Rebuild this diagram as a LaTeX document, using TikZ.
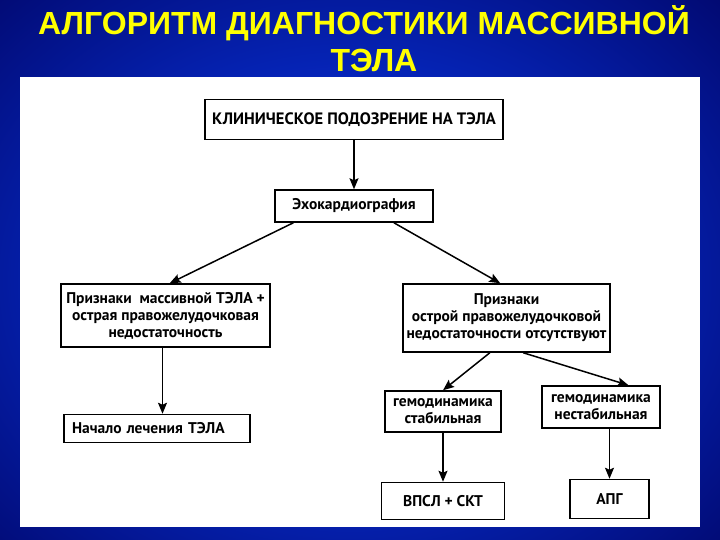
\documentclass[tikz,border=0pt]{standalone}
\usepackage{fontspec}
\setmainfont{PT Sans}
\newfontfamily\titlefont{Liberation Sans}
\usetikzlibrary{calc}
\usetikzlibrary{positioning}
\usetikzlibrary{arrows.meta}
\definecolor{navy}{HTML}{00005A}
\definecolor{slideblue}{HTML}{0A40FF}
\definecolor{titleyellow}{HTML}{FFFF00}

\begin{document}
\begin{tikzpicture}[x=1pt, y=-1pt, ->, >={Stealth[length=11pt, width=9pt, inset=2pt]}, line width=1.5pt, draw=black]
    \tikzstyle{block}=[draw=black, rectangle, fill=white, inner sep=2pt, align=center, font=\fontsize{15.5}{17}\selectfont\bfseries]
    \tikzstyle{title}=[text=titleyellow, anchor=base, inner sep=0pt, font=\titlefont\fontsize{32}{36}\selectfont\bfseries]

    \useasboundingbox (0,0) rectangle (720,540);
    % slide background (larger than the page) and white panel
    \shade[inner color=slideblue, outer color=navy] (-250,-200) rectangle (950,760);
    \fill[white] (20,77) rectangle (700,527);

    \node[title] (title1) at (364,35) {АЛГОРИТМ ДИАГНОСТИКИ МАССИВНОЙ};
    \node[title] (title2) at (374,72) {ТЭЛА};

    \node[block, minimum width=298, minimum height=40, font=\fontsize{16.5}{17}\selectfont\bfseries] (klin) at (354,119.5) {КЛИНИЧЕСКОЕ ПОДОЗРЕНИЕ НА ТЭЛА};
    \node[block, below=49pt of klin, minimum width=158, minimum height=32] (echo) {Эхокардиография};

    \node[block, minimum width=209, minimum height=63] (massive) at (165.5,315.5) {Признаки\ \ массивной ТЭЛА +\\ острая правожелудочковая\\ недостаточность};
    \node[block, below right=66pt and 3pt of massive.south west, anchor=north west, text width=170pt, align=left, inner xsep=8pt, minimum height=28] (start) {Начало лечения ТЭЛА};

    \node[block, minimum width=207, minimum height=68] (absent) at (506.5,318) {Признаки\\ острой правожелудочковой\\ недостаточности отсутствуют};
    \node[block, minimum width=116, minimum height=41] (stable) at (443,411.5) {гемодинамика\\ стабильная};
    \node[block, minimum width=118, minimum height=42] (unstable) at (601,407) {гемодинамика\\ нестабильная};

    \node[block, below=49pt of stable, minimum width=123, minimum height=37] (vpsl) {ВПСЛ + СКТ};
    \node[block, below right=50pt and 28pt of unstable.south west, anchor=north west, minimum width=79, minimum height=39] (apg) {АПГ};

    \path (klin) edge (echo);
    \path ($(echo.south west)!0.12!(echo.south east)$) edge ($(massive.north west)!0.52!(massive.north east)$);
    \path ($(echo.south west)!0.75!(echo.south east)$) edge ($(absent.north west)!0.47!(absent.north east)$);
    \path ($(massive.south)+(-3,0)$) edge ($(massive.south |- start.north)+(-3,0)$);

    \path ($(absent.south west)!0.42!(absent.south east)$) edge (stable.north);
    \path ($(absent.south west)!0.58!(absent.south east)$) edge ($(unstable.north west)!0.73!(unstable.north east)$);
    \path (stable.south) edge (stable.south |- vpsl.north);
    \path (apg.north |- unstable.south) edge (apg.north);

\end{tikzpicture}
\end{document}
